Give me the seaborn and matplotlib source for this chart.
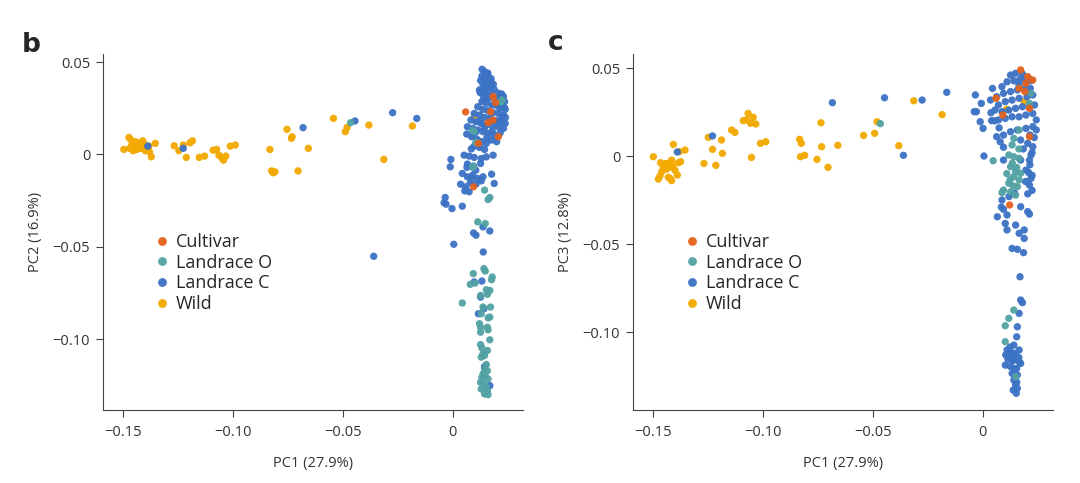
import matplotlib
matplotlib.use('Agg')
import matplotlib.pyplot as plt
import pandas as pd
import seaborn as sns

# ------------------------------------------------------------------------------
# data (PC scores)
# ------------------------------------------------------------------------------
groups = ['Cultivar', 'Landrace O', 'Landrace C', 'Wild']
colors = ['#e4621c', '#52a2a4', '#3b72c4', '#f2a900']

xticks = [-0.15, -0.10, -0.05, 0]
xtick_labels = ['\u22120.15', '\u22120.10', '\u22120.05', '0']
yticks = [0.05, 0, -0.05, -0.10]
ytick_labels = ['0.05', '0', '\u22120.05', '\u22120.10']

# panel b : PC1 vs PC2
b_wild = [
    (-0.1495, 0.0027), (-0.1472, 0.0092), (-0.1464, 0.0081), (-0.1469, 0.0033), (-0.1453, 0.0020),
    (-0.1441, 0.0069), (-0.1433, 0.0042), (-0.1425, 0.0060), (-0.1417, 0.0033), (-0.1409, 0.0074),
    (-0.1402, 0.0056), (-0.1394, 0.0045), (-0.1386, 0.0033), (-0.1378, 0.0014), (-0.1370, -0.0013),
    (-0.1352, 0.0060), (-0.1459, 0.0051), (-0.1448, 0.0045), (-0.1436, 0.0027), (-0.1413, 0.0045),
    (-0.1397, 0.0020), (-0.1381, 0.0045),
    (-0.1266, 0.0047), (-0.1245, 0.0020), (-0.1225, 0.0051), (-0.1211, -0.0016), (-0.1194, 0.0063),
    (-0.1183, 0.0074), (-0.1152, -0.0016), (-0.1128, -0.0009), (-0.1089, 0.0023), (-0.1073, 0.0027),
    (-0.1063, -0.0004), (-0.1050, -0.0016), (-0.1042, -0.0031), (-0.1031, -0.0009), (-0.1011, 0.0045),
    (-0.0988, 0.0051),
    (-0.0831, 0.0027), (-0.0823, -0.0089), (-0.0816, -0.0099), (-0.0808, -0.0094), (-0.0753, 0.0136),
    (-0.0730, 0.0096), (-0.0733, 0.0087), (-0.0703, -0.0089), (-0.0656, 0.0033),
    (-0.0542, 0.0195), (-0.0488, 0.0123), (-0.0480, 0.0146), (-0.0381, 0.0159), (-0.0313, -0.0027),
    (-0.0183, 0.0154), (0.0098, 0.0201),
]
b_land_c = [
    (-0.1225, 0.0033), (-0.1386, 0.0045), (-0.0680, 0.0145), (-0.0444, 0.0181), (-0.0273, 0.0226),
    (-0.0163, 0.0195), (-0.0359, -0.0551),
    (0.0134, 0.0461), (0.0145, 0.0448), (0.0153, 0.0439), (0.0133, 0.0425), (0.0142, 0.0412),
    (0.0161, 0.0425), (0.0127, 0.0400), (0.0148, 0.0389), (0.0169, 0.0400), (0.0138, 0.0376),
    (0.0158, 0.0367), (0.0177, 0.0376), (0.0122, 0.0349), (0.0145, 0.0345), (0.0169, 0.0340),
    (0.0189, 0.0352), (0.0208, 0.0331), (0.0223, 0.0327), (0.0231, 0.0313), (0.0138, 0.0322),
    (0.0153, 0.0309), (0.0173, 0.0313), (0.0195, 0.0298), (0.0216, 0.0295), (0.0236, 0.0286),
    (0.0133, 0.0286), (0.0155, 0.0277), (0.0180, 0.0268), (0.0205, 0.0262), (0.0227, 0.0258),
    (0.0239, 0.0244), (0.0114, 0.0258), (0.0138, 0.0244), (0.0161, 0.0237), (0.0184, 0.0226),
    (0.0208, 0.0222), (0.0231, 0.0213), (0.0098, 0.0222), (0.0122, 0.0213), (0.0145, 0.0201),
    (0.0169, 0.0190), (0.0195, 0.0183), (0.0220, 0.0177), (0.0239, 0.0168), (0.0083, 0.0186),
    (0.0106, 0.0177), (0.0130, 0.0168), (0.0153, 0.0159), (0.0180, 0.0154), (0.0205, 0.0150),
    (0.0231, 0.0141), (0.0067, 0.0150), (0.0091, 0.0141), (0.0114, 0.0132), (0.0138, 0.0123),
    (0.0161, 0.0114), (0.0189, 0.0105), (0.0216, 0.0117), (0.0064, 0.0110), (0.0086, 0.0096),
    (0.0111, 0.0081), (0.0130, 0.0069), (0.0153, 0.0060), (0.0177, 0.0078), (0.0200, 0.0069),
    (0.0098, 0.0045), (0.0122, 0.0038), (0.0145, 0.0027), (0.0052, -0.0004), (0.0075, -0.0009),
    (0.0098, -0.0016), (0.0130, -0.0022), (0.0153, -0.0013), (0.0184, -0.0004), (-0.0008, -0.0027),
    (-0.0011, -0.0067), (0.0067, -0.0052), (0.0095, -0.0063), (0.0127, -0.0049), (0.0044, -0.0103),
    (0.0067, -0.0121), (0.0091, -0.0112), (0.0114, -0.0130), (0.0138, -0.0121), (0.0177, -0.0107),
    (0.0036, -0.0161), (0.0059, -0.0175), (0.0080, -0.0154), (0.0106, -0.0161), (0.0130, -0.0143),
    (0.0189, -0.0157), (0.0055, -0.0197), (0.0075, -0.0202), (-0.0034, -0.0233), (-0.0039, -0.0262),
    (-0.0030, -0.0269), (-0.0003, -0.0293), (0.0044, -0.0280), (0.0138, -0.0392), (0.0169, -0.0414),
    (0.0095, -0.0425), (0.0106, -0.0437), (0.0005, -0.0486), (0.0139, -0.0528), (0.0098, -0.0690),
    (0.0133, -0.0685), (0.0127, -0.0772), (0.0142, -0.0835), (0.0117, -0.0862), (0.0145, -0.1148),
    (0.0169, -0.1251),
    (0.0160, 0.0440), (0.0175, 0.0410), (0.0185, 0.0380), (0.0150, 0.0360), (0.0200, 0.0300),
    (0.0190, 0.0270), (0.0215, 0.0250), (0.0225, 0.0200), (0.0170, 0.0200), (0.0125, 0.0180),
    (0.0105, 0.0120), (0.0155, 0.0090), (0.0120, 0.0050), (0.0225, 0.0310), (0.0240, 0.0200),
    (0.0235, 0.0255), (0.0115, 0.0075), (0.0085, 0.0030), (0.0095, 0.0115), (0.0165, 0.0305),
    (0.0140, 0.0295), (0.0125, 0.0335), (0.0205, 0.0180), (0.0180, 0.0125), (0.0145, 0.0145),
    (0.0065, -0.0070), (0.0105, -0.0085), (0.0085, -0.0130),
]
b_land_o = [
    (-0.0464, 0.0172),
    (0.0223, 0.0295), (0.0098, 0.0123), (0.0091, -0.0070), (0.0145, -0.0193), (0.0169, -0.0233),
    (0.0161, -0.0244), (0.0114, -0.0365), (0.0148, -0.0374), (0.0094, -0.0645), (0.0142, -0.0618),
    (0.0148, -0.0631), (0.0180, -0.0663), (0.0177, -0.0678), (0.0080, -0.0703), (0.0102, -0.0696),
    (0.0153, -0.0732), (0.0169, -0.0736), (0.0127, -0.0763), (0.0158, -0.0757), (0.0044, -0.0804),
    (0.0138, -0.0826), (0.0172, -0.0826), (0.0130, -0.0862), (0.0161, -0.0884), (0.0169, -0.0880),
    (0.0122, -0.0916), (0.0127, -0.0935), (0.0158, -0.0935), (0.0161, -0.0949), (0.0127, -0.0962),
    (0.0169, -0.1003), (0.0127, -0.1029), (0.0133, -0.1047), (0.0158, -0.1061), (0.0138, -0.1079),
    (0.0145, -0.1088), (0.0130, -0.1097), (0.0153, -0.1137), (0.0145, -0.1161), (0.0158, -0.1170),
    (0.0138, -0.1188), (0.0148, -0.1197), (0.0133, -0.1206), (0.0161, -0.1215), (0.0127, -0.1233),
    (0.0142, -0.1242), (0.0153, -0.1260), (0.0130, -0.1269), (0.0158, -0.1278), (0.0145, -0.1296),
    (0.0161, -0.1300),
    (0.0090, 0.0130), (0.0095, -0.0065), (0.0220, 0.0285), (0.0105, 0.0065),
]
b_cultivar = [
    (0.0059, 0.0230), (0.0184, 0.0313), (0.0161, 0.0172), (0.0208, 0.0096), (0.0117, 0.0060),
    (0.0095, -0.0175), (0.0173, 0.0231), (0.0184, 0.0186), (0.0195, 0.0280),
]

# panel c : PC1 vs PC3
c_wild = [
    (-0.1497, -0.0004), (-0.1464, -0.0038), (-0.1452, -0.0061), (-0.1459, -0.0089), (-0.1474, -0.0131),
    (-0.1467, -0.0114), (-0.1444, -0.0057), (-0.1436, -0.0042), (-0.1424, -0.0064), (-0.1414, -0.0023),
    (-0.1409, -0.0057), (-0.1399, -0.0080), (-0.1388, -0.0108), (-0.1383, -0.0038), (-0.1373, -0.0032),
    (-0.1379, 0.0025), (-0.1353, 0.0034), (-0.1406, 0.0066), (-0.1421, -0.0127), (-0.1414, -0.0140),
    (-0.1429, -0.0121), (-0.1445, -0.0045), (-0.1438, -0.0075), (-0.1418, -0.0048),
    (-0.1267, -0.0042), (-0.1247, 0.0106), (-0.1228, 0.0038), (-0.1213, -0.0053), (-0.1187, 0.0091),
    (-0.1183, 0.0015), (-0.1141, 0.0148), (-0.1126, 0.0134), (-0.1088, 0.0201), (-0.1073, 0.0205),
    (-0.1066, 0.0242), (-0.1043, 0.0220), (-0.1031, 0.0182), (-0.1055, 0.0186), (-0.1051, -0.0008),
    (-0.1010, 0.0072), (-0.0986, 0.0081),
    (-0.0832, 0.0095), (-0.0824, 0.0072), (-0.0828, -0.0004), (-0.0809, 0.0004), (-0.0753, -0.0019),
    (-0.0735, 0.0189), (-0.0732, 0.0053), (-0.0703, -0.0064), (-0.0658, 0.0061),
    (-0.0541, 0.0117), (-0.0491, 0.0129), (-0.0480, 0.0195), (-0.0381, 0.0059), (-0.0313, 0.0314),
    (-0.0184, 0.0235), (0.0108, 0.0265), (0.0189, 0.0309),
]
c_land_c = [
    (-0.1228, 0.0114), (-0.1388, 0.0023), (-0.0683, 0.0303), (-0.0446, 0.0331), (-0.0275, 0.0318),
    (-0.0360, 0.0004), (-0.0163, 0.0362),
    (0.0127, 0.0460), (0.0150, 0.0470), (0.0181, 0.0466), (0.0213, 0.0436), (0.0111, 0.0422),
    (0.0142, 0.0428), (0.0170, 0.0436), (0.0197, 0.0417), (0.0220, 0.0428), (0.0088, 0.0394),
    (0.0045, 0.0384), (-0.0033, 0.0347), (-0.0006, 0.0299), (-0.0038, 0.0252), (0.0036, 0.0318),
    (0.0064, 0.0337), (0.0095, 0.0356), (0.0127, 0.0366), (0.0158, 0.0375), (0.0189, 0.0379),
    (0.0217, 0.0384), (0.0072, 0.0290), (0.0103, 0.0309), (0.0134, 0.0318), (0.0166, 0.0328),
    (0.0202, 0.0337), (0.0228, 0.0347), (0.0056, 0.0261), (0.0088, 0.0252), (0.0119, 0.0261),
    (0.0150, 0.0271), (0.0181, 0.0280), (0.0213, 0.0280), (0.0236, 0.0290), (-0.0011, 0.0195),
    (0.0002, 0.0157), (0.0041, 0.0201), (0.0072, 0.0205), (0.0103, 0.0214), (0.0134, 0.0223),
    (0.0166, 0.0223), (0.0197, 0.0233), (0.0228, 0.0242), (0.0244, 0.0205), (0.0064, 0.0110),
    (0.0095, 0.0119), (0.0127, 0.0138), (0.0158, 0.0148), (0.0197, 0.0157), (0.0228, 0.0167),
    (0.0244, 0.0148), (0.0080, 0.0081), (0.0173, 0.0091), (0.0205, 0.0072), (0.0228, 0.0053),
    (0.0220, 0.0006), (0.0213, -0.0023), (0.0173, -0.0023), (0.0006, 0.0000), (0.0095, -0.0023),
    (0.0197, -0.0080), (0.0220, -0.0127), (0.0213, -0.0165), (0.0088, -0.0250), (0.0067, -0.0345),
    (0.0095, -0.0303), (0.0111, -0.0335), (0.0173, -0.0288), (0.0205, -0.0316), (0.0213, -0.0330),
    (0.0103, -0.0383), (0.0111, -0.0420), (0.0150, -0.0392), (0.0189, -0.0420), (0.0166, -0.0439),
    (0.0189, -0.0468), (0.0134, -0.0525), (0.0158, -0.0530), (0.0186, -0.0549), (0.0170, -0.0686),
    (0.0173, -0.0818), (0.0181, -0.0833), (0.0166, -0.0894), (0.0158, -0.0970), (0.0155, -0.1027),
    (0.0142, -0.1074), (0.0111, -0.1102), (0.0127, -0.1112), (0.0150, -0.1121), (0.0166, -0.1102),
    (0.0119, -0.1140), (0.0142, -0.1159), (0.0166, -0.1169), (0.0103, -0.1188), (0.0127, -0.1197),
    (0.0155, -0.1206), (0.0173, -0.1178), (0.0134, -0.1235), (0.0158, -0.1244), (0.0142, -0.1273),
    (0.0150, -0.1301), (0.0158, -0.1320), (0.0153, -0.1348), (0.0139, -0.1330),
    (0.0215, -0.0050), (0.0225, -0.0110), (0.0195, -0.0145), (0.0120, -0.0230), (0.0145, -0.0210),
    (0.0085, -0.0290), (0.0205, -0.0215), (0.0225, -0.0195), (0.0210, -0.0095), (0.0225, 0.0020),
    (0.0185, 0.0040), (0.0235, 0.0105), (0.0215, 0.0120), (0.0095, 0.0050), (0.0075, 0.0160),
    (0.0055, 0.0200), (0.0165, 0.0405), (0.0195, 0.0435), (0.0038, 0.0246), (-0.0028, 0.0252),
    (0.0125, -0.1085), (0.0135, -0.1125), (0.0115, -0.1155), (0.0145, -0.1210), (0.0165, -0.1145),
    (0.0135, -0.1165), (0.0105, -0.1130), (0.0148, -0.1255), (0.0155, -0.1285),
]
c_land_o = [
    (-0.0465, 0.0184),
    (0.0220, 0.0356), (0.0213, 0.0299), (0.0142, 0.0100), (0.0166, 0.0148), (0.0134, 0.0063),
    (0.0048, -0.0027), (0.0119, 0.0006), (0.0142, -0.0004), (0.0166, -0.0013), (0.0127, -0.0061),
    (0.0150, -0.0089), (0.0173, -0.0098), (0.0142, -0.0117), (0.0166, -0.0136), (0.0119, -0.0155),
    (0.0158, -0.0174), (0.0095, -0.0193), (0.0088, -0.0208), (0.0127, -0.0203), (0.0150, -0.0222),
    (0.0142, -0.0875), (0.0119, -0.0922), (0.0103, -0.0964), (0.0103, -0.1055), (0.0150, -0.1254),
    (0.0135, -0.0040), (0.0155, -0.0065), (0.0125, -0.0135), (0.0140, -0.0170), (0.0165, 0.0040),
    (0.0110, -0.0100),
]
c_cultivar = [
    (0.0173, 0.0489), (0.0205, 0.0451), (0.0228, 0.0432), (0.0166, 0.0384), (0.0061, 0.0328),
    (0.0192, 0.0366), (0.0213, 0.0271), (0.0092, 0.0233), (0.0213, 0.0110), (0.0123, -0.0278),
    (0.0197, 0.0413),
]


def make_df(wild, land_c, land_o, cultivar, ycol):
    # draw order: wild first, cultivar on top
    parts = []
    for name, pts in [('Wild', wild), ('Landrace C', land_c),
                      ('Landrace O', land_o), ('Cultivar', cultivar)]:
        d = pd.DataFrame(pts, columns=['PC1', ycol])
        d['group'] = name
        parts.append(d)
    return pd.concat(parts, ignore_index=True)


b_df = make_df(b_wild, b_land_c, b_land_o, b_cultivar, 'PC2')
c_df = make_df(c_wild, c_land_c, c_land_o, c_cultivar, 'PC3')

# ------------------------------------------------------------------------------
# plot
# ------------------------------------------------------------------------------
sns.set_theme(style='ticks')
plt.rcParams['font.family'] = ['Open Sans', 'DejaVu Sans']
plt.rcParams['axes.edgecolor'] = '#444444'
plt.rcParams['xtick.color'] = '#444444'
plt.rcParams['ytick.color'] = '#444444'

palette = dict(zip(groups, colors))

fig = plt.figure(figsize=(10.8, 4.83), dpi=100)
ax_b = fig.add_axes([0.0951, 0.1511, 0.3894, 0.7365])
ax_c = fig.add_axes([0.5858, 0.1511, 0.3894, 0.7365])

panels = [
    (ax_b, b_df, 'PC2', 'PC2 (16.9%)', (-0.1383, 0.0542)),
    (ax_c, c_df, 'PC3', 'PC3 (12.8%)', (-0.1443, 0.0578)),
]
for ax, df, ycol, ylabel, ylim in panels:
    sns.scatterplot(data=df, x='PC1', y=ycol, hue='group', hue_order=groups,
                    palette=palette, s=28, linewidth=0, alpha=0.95, ax=ax)
    ax.set_xlim(-0.1591, 0.0321)
    ax.set_ylim(*ylim)
    ax.set_xticks(xticks)
    ax.set_xticklabels(xtick_labels)
    ax.set_yticks(yticks)
    ax.set_yticklabels(ytick_labels)
    ax.tick_params(labelsize=10.5, length=5, width=0.8, pad=4,
                   colors='#444444', labelcolor='#333333')
    ax.tick_params(axis='x', pad=6)
    ax.set_xlabel('PC1 (27.9%)', fontsize=10.5, color='#333333', labelpad=11)
    ax.set_ylabel(ylabel, fontsize=10.5, color='#333333', labelpad=7)
    for sp in ['left', 'bottom']:
        ax.spines[sp].set_linewidth(0.8)
    sns.despine(ax=ax)
    sns.move_legend(ax, 'upper left', bbox_to_anchor=(0.103, 0.518), frameon=False,
                    title=None, fontsize=13, handlelength=1.0, handletextpad=0.25,
                    labelspacing=0.15, markerscale=1.2, borderaxespad=0)

fig.text(0.020, 0.893, 'b', fontsize=19, fontweight='bold', family='DejaVu Sans')
fig.text(0.507, 0.896, 'c', fontsize=19, fontweight='bold', family='DejaVu Sans')

fig.savefig('out.png', dpi=100)
